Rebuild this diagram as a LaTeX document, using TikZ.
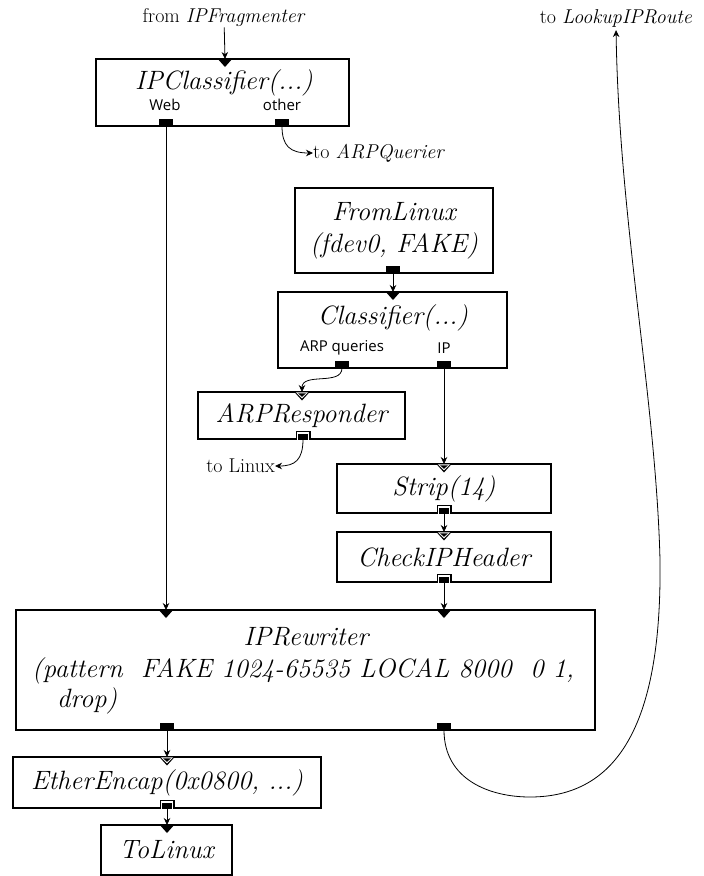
\documentclass[tikz,border=0pt]{standalone}
\usepackage{fontspec}
\newfontfamily\portfont{Open Sans}
\usetikzlibrary{arrows.meta}
\tikzset{
  box/.style={draw, line width=1.6pt, rectangle, inner sep=0pt},
  eltxt/.style={font=\fontsize{26.5}{31}\selectfont\itshape, inner sep=0pt},
  ann/.style={font=\fontsize{20}{24}\selectfont, inner sep=0pt},
  plbl/.style={font=\portfont\fontsize{15}{17}\selectfont, inner sep=0pt},
  conn/.style={line width=0.8pt, -{Stealth[length=7pt,width=6.5pt]}},
  pushout/.pic={\fill (-7,-7.5) rectangle (7,0.5);},
  agout/.pic={\fill (-7.5,-8) rectangle (7.5,0.5);
               \fill[white] (-6.3,-6.8) rectangle (6.3,0.5);
               \fill (-5,-5.5) rectangle (5,0.5);},
  pushin/.pic={\fill (-8,-1) -- (8,-1) -- (0,8) -- cycle;},
  agin/.pic={\fill (-8.5,-1) -- (8.5,-1) -- (0,8.5) -- cycle;
             \fill[white] (-6,0.3) -- (6,0.3) -- (0,6.3) -- cycle;
             \fill (-4,1.3) -- (4,1.3) -- (0,4.8) -- cycle;},
}
\begin{document}
\begin{tikzpicture}[x=1pt,y=-1pt]
\useasboundingbox (0,0) rectangle (704,876);

% boxes
\node[box, minimum width=253, minimum height=67] (ipc) at (222.5,92.5) {};
\node[box, eltxt, minimum width=198, minimum height=85, align=center, font=\fontsize{26.5}{32}\selectfont\itshape] (fl) at (394,230.5) {FromLinux\\(fdev0, FAKE)};
\node[box, minimum width=229, minimum height=76] (cls) at (392.5,330) {};
\node[box, eltxt, minimum width=207, minimum height=47] (arpr) at (301.5,415.5) {ARPResponder};
\node[box, eltxt, minimum width=214, minimum height=49] (strip) at (444,488.5) {Strip(14)};
\node[box, eltxt, minimum width=214, minimum height=50] (chk) at (444,557) {CheckIPHeader};
\node[box, minimum width=579, minimum height=120] (ipr) at (305.5,670) {};
\node[box, eltxt, minimum width=308, minimum height=51] (ee) at (167,782.5) {EtherEncap(0x0800, ...)};
\node[box, eltxt, minimum width=131, minimum height=50] (tl) at (166.5,850) {ToLinux};

% texts inside boxes
\node[eltxt] (ipct) at (224,83) {IPClassifier(...)};
\node[plbl] (webt) at (165,105) {Web};
\node[plbl] (othert) at (282,105) {other};
\node[eltxt] (clst) at (393,318) {Classifier(...)};
\node[plbl] (arpqlbl) at (342,348) {ARP queries};
\node[plbl] (iplbl) at (444,348) {IP};
\node[eltxt] (iprt1) at (306,637) {IPRewriter};
\node[eltxt, anchor=base west] (iprt2) at (32,677) {(pattern\ \ FAKE 1024-65535 LOCAL 8000\ \ 0 1,};
\node[eltxt, anchor=base west] (iprt3) at (57,707) {drop)};

% annotations
\node[ann] (fromt) at (224,18) {from \textit{IPFragmenter}};
\node[ann] (lookt) at (616,18) {to \textit{LookupIPRoute}};
\node[ann, anchor=west] (arpqt) at (313,153) {to \textit{ARPQuerier}};
\node[ann, anchor=east] (linuxt) at (275,466) {to Linux};

% port coordinates
\coordinate (ipcin) at (225,59);
\coordinate (ipcW) at (166,126);
\coordinate (ipcO) at (282,126);
\coordinate (flout) at (393,273);
\coordinate (clsin) at (393,292);
\coordinate (clsA) at (342,368);
\coordinate (clsI) at (444,368);
\coordinate (arprin) at (302,392);
\coordinate (arprout) at (303,439);
\coordinate (stripin) at (444,464);
\coordinate (stripout) at (444,513);
\coordinate (chkin) at (444,532);
\coordinate (chkout) at (444,582);
\coordinate (iprin0) at (166,610);
\coordinate (iprin1) at (444,610);
\coordinate (iprout0) at (167,730);
\coordinate (iprout1) at (444,730);
\coordinate (eein) at (167,757);
\coordinate (eeout) at (167,808);
\coordinate (tlin) at (167,825);

% connectors
\draw[conn] (fromt) -- (ipcin);
\draw[conn] (ipcW) -- (iprin0);
\draw[conn] (ipcO) .. controls (282,146) and (290,153) .. (arpqt.west);
\draw[conn] (flout) -- (clsin);
\draw[conn] (clsA) .. controls (342,386) and (302,372) .. (arprin);
\draw[conn] (clsI) -- (stripin);
\draw[conn] (arprout) .. controls (303,460) and (295,466) .. (linuxt.east);
\draw[conn] (stripout) -- (chkin);
\draw[conn] (chkout) -- (iprin1);
\draw[conn] (iprout0) -- (eein);
\draw[conn] (eeout) -- (tlin);
\draw[conn, shorten >=3pt] (iprout1) .. controls (444,780) and (490,797) .. (530,797)
   .. controls (620,797) and (662,720) .. (660,560)
   .. controls (656,400) and (619,220) .. (lookt.south);

% ports
\pic at (ipcin) {pushin};
\pic at (ipcW) {pushout};
\pic at (ipcO) {pushout};
\pic at (flout) {pushout};
\pic at (clsin) {pushin};
\pic at (clsA) {pushout};
\pic at (clsI) {pushout};
\pic at (arprin) {agin};
\pic at (arprout) {agout};
\pic at (stripin) {agin};
\pic at (stripout) {agout};
\pic at (chkin) {agin};
\pic at (chkout) {agout};
\pic at (iprin0) {pushin};
\pic at (iprin1) {pushin};
\pic at (iprout0) {pushout};
\pic at (iprout1) {pushout};
\pic at (eein) {agin};
\pic at (eeout) {agout};
\pic at (tlin) {pushin};
\end{tikzpicture}
\end{document}
